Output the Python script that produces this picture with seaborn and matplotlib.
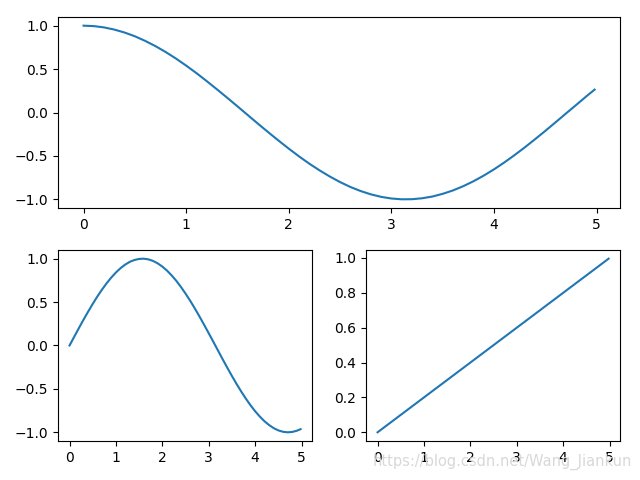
import matplotlib
matplotlib.use("Agg")
import matplotlib.pyplot as plt
import seaborn as sns

# valeurs
x_vals = [0.0, 0.1, 0.2, 0.3, 0.4, 0.5, 0.6, 0.7, 0.8, 0.9,
          1.0, 1.1, 1.2, 1.3, 1.4, 1.5, 1.6, 1.7, 1.8, 1.9,
          2.0, 2.1, 2.2, 2.3, 2.4, 2.5, 2.6, 2.7, 2.8, 2.9,
          3.0, 3.1, 3.2, 3.3, 3.4, 3.5, 3.6, 3.7, 3.8, 3.9,
          4.0, 4.1, 4.2, 4.3, 4.4, 4.5, 4.6, 4.7, 4.8, 4.9, 4.98]

top_vals = [1.000, 0.995, 0.980, 0.955, 0.921, 0.878, 0.825, 0.765, 0.697, 0.622,
            0.540, 0.454, 0.362, 0.267, 0.170, 0.071, -0.029, -0.129, -0.227, -0.323,
            -0.416, -0.505, -0.589, -0.666, -0.737, -0.801, -0.857, -0.904, -0.942, -0.971,
            -0.990, -0.999, -0.998, -0.987, -0.967, -0.936, -0.897, -0.848, -0.791, -0.726,
            -0.654, -0.575, -0.490, -0.401, -0.307, -0.211, -0.112, -0.012, 0.087, 0.187, 0.264]

left_vals = [0.000, 0.100, 0.199, 0.296, 0.389, 0.479, 0.565, 0.644, 0.717, 0.783,
             0.841, 0.891, 0.932, 0.964, 0.985, 0.997, 1.000, 0.992, 0.974, 0.946,
             0.909, 0.863, 0.808, 0.746, 0.675, 0.598, 0.516, 0.427, 0.335, 0.239,
             0.141, 0.042, -0.058, -0.158, -0.256, -0.351, -0.443, -0.530, -0.612, -0.688,
             -0.757, -0.818, -0.872, -0.916, -0.952, -0.978, -0.994, -1.000, -0.996, -0.982, -0.964]

right_x = [0.0, 4.98]
right_vals = [0.0, 0.996]

fig = plt.figure(figsize=(6.4, 4.8), dpi=100)
gs = fig.add_gridspec(2, 2, left=0.0906, right=0.969, top=0.9646, bottom=0.0813,
                      hspace=0.22, wspace=0.212)
ax1 = fig.add_subplot(gs[0, :])
ax2 = fig.add_subplot(gs[1, 0])
ax3 = fig.add_subplot(gs[1, 1])

sns.lineplot(x=x_vals, y=top_vals, ax=ax1)
sns.lineplot(x=x_vals, y=left_vals, ax=ax2)
sns.lineplot(x=right_x, y=right_vals, ax=ax3)

# filigrane
fig.text(0.988, 0.0375, "https://blog.csdn.net/Wang_Jiankun", ha="right", va="center",
         color="#d8d8d8", fontsize=10.5)
plt.savefig("out.png")
